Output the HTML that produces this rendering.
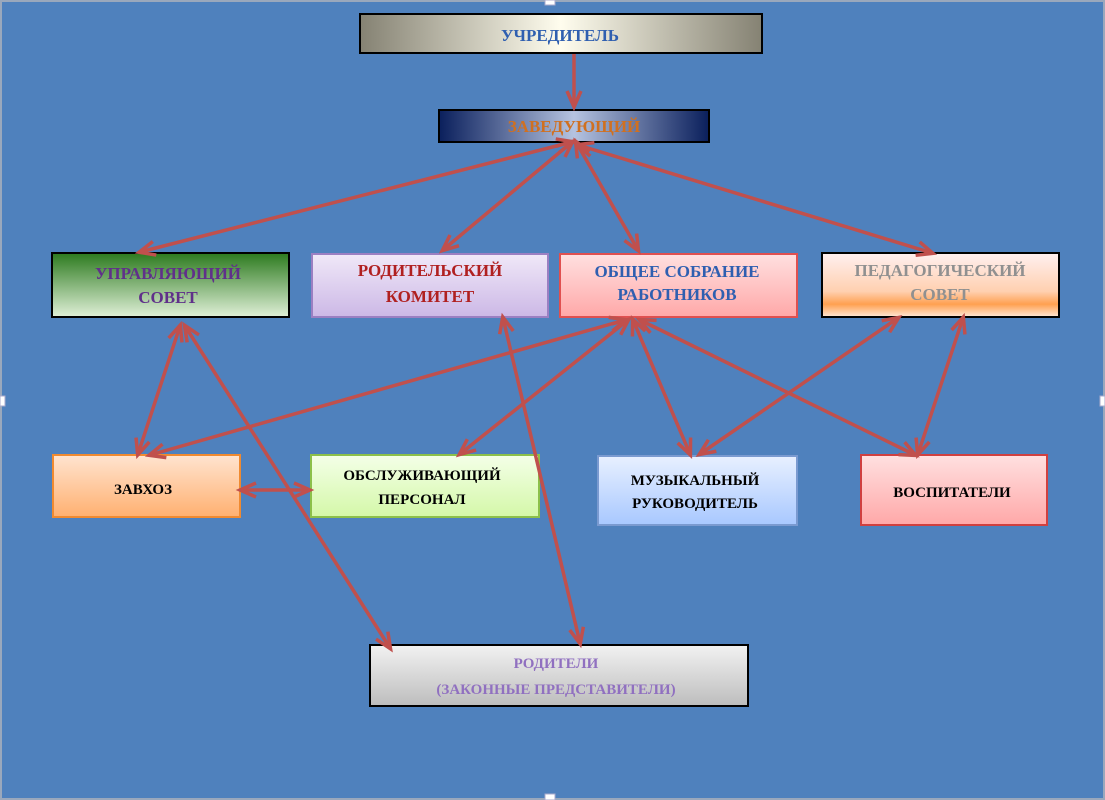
<!DOCTYPE html>
<html><head><meta charset="utf-8"><style>
html,body{margin:0;padding:0;background:#4f81bd;}
svg{display:block}
text{font-family:"Liberation Serif",serif;font-weight:bold;text-anchor:middle}
</style></head><body>
<svg width="1105" height="800" viewBox="0 0 1105 800" xmlns="http://www.w3.org/2000/svg">
<defs>
<linearGradient id="g1" x1="0" x2="1"><stop offset="0" stop-color="#858273"/><stop offset=".5" stop-color="#fffdee"/><stop offset="1" stop-color="#858273"/></linearGradient>
<linearGradient id="g2" x1="0" x2="1"><stop offset="0" stop-color="#0a1f5c"/><stop offset=".5" stop-color="#b5c3e0"/><stop offset="1" stop-color="#0a1f5c"/></linearGradient>
<linearGradient id="g3" x1="0" y1="0" x2="0" y2="1"><stop offset="0" stop-color="#2c7a1e"/><stop offset="1" stop-color="#e0f0d8"/></linearGradient>
<linearGradient id="g4" x1="0" y1="0" x2="0" y2="1"><stop offset="0" stop-color="#f0e8f8"/><stop offset="1" stop-color="#ccb8e6"/></linearGradient>
<linearGradient id="g5" x1="0" y1="0" x2="0" y2="1"><stop offset="0" stop-color="#ffe0e0"/><stop offset="1" stop-color="#ffa8a8"/></linearGradient>
<linearGradient id="g6" x1="0" y1="0" x2="0" y2="1"><stop offset="0" stop-color="#fff0f0"/><stop offset=".6" stop-color="#ffd0b0"/><stop offset=".8" stop-color="#ffa050"/><stop offset="1" stop-color="#ffe8d8"/></linearGradient>
<linearGradient id="g7" x1="0" y1="0" x2="0" y2="1"><stop offset="0" stop-color="#ffe4d0"/><stop offset="1" stop-color="#ffb070"/></linearGradient>
<linearGradient id="g8" x1="0" y1="0" x2="0" y2="1"><stop offset="0" stop-color="#f4ffe8"/><stop offset="1" stop-color="#d4f8a8"/></linearGradient>
<linearGradient id="g9" x1="0" y1="0" x2="0" y2="1"><stop offset="0" stop-color="#e8f0ff"/><stop offset="1" stop-color="#a8c8ff"/></linearGradient>
<linearGradient id="g10" x1="0" y1="0" x2="0" y2="1"><stop offset="0" stop-color="#ffe0e0"/><stop offset="1" stop-color="#ffa8a8"/></linearGradient>
<linearGradient id="g11" x1="0" y1="0" x2="0" y2="1"><stop offset="0" stop-color="#f2f2f2"/><stop offset="1" stop-color="#bdbdbd"/></linearGradient>
<marker id="a" viewBox="-6 -6 20 24" refX="11" refY="6" markerWidth="20" markerHeight="24" orient="auto-start-reverse" markerUnits="userSpaceOnUse" style="overflow:visible">
<path d="M-4,-1 L12,6 L-4,13" fill="none" stroke="#c0504d" stroke-width="3.5"/></marker>
</defs>
<rect x="1" y="1" width="1103" height="798" fill="#4f81bd" stroke="#9aa8bc" stroke-width="2"/>
<g stroke="#000" stroke-width="2">
<rect x="360" y="14" width="402" height="39" fill="url(#g1)"/>
<rect x="439" y="110" width="270" height="32" fill="url(#g2)"/>
<rect x="52" y="253" width="237" height="64" fill="url(#g3)"/>
<rect x="312" y="254" width="236" height="63" fill="url(#g4)" stroke="#9b7fc2"/>
<rect x="560" y="254" width="237" height="63" fill="url(#g5)" stroke="#e05050"/>
<rect x="822" y="253" width="237" height="64" fill="url(#g6)"/>
<rect x="53" y="455" width="187" height="62" fill="url(#g7)" stroke="#f08a30"/>
<rect x="311" y="455" width="228" height="62" fill="url(#g8)" stroke="#8cc04a"/>
<rect x="598" y="456" width="199" height="69" fill="url(#g9)" stroke="#7a9ad0"/>
<rect x="861" y="455" width="186" height="70" fill="url(#g10)" stroke="#d04040"/>
<rect x="370" y="645" width="378" height="61" fill="url(#g11)"/>
</g>
<g font-size="17">
<text x="560" y="41" fill="#2f5fb0">УЧРЕДИТЕЛЬ</text>
<text x="574" y="132" fill="#d07020">ЗАВЕДУЮЩИЙ</text>
<text x="168" y="279" fill="#60308a">УПРАВЛЯЮЩИЙ</text><text x="168" y="303" fill="#60308a">СОВЕТ</text>
<text x="430" y="276" fill="#b02020">РОДИТЕЛЬСКИЙ</text><text x="430" y="302" fill="#b02020">КОМИТЕТ</text>
<text x="677" y="277" fill="#2f5fb0">ОБЩЕЕ СОБРАНИЕ</text><text x="677" y="300" fill="#2f5fb0">РАБОТНИКОВ</text>
<text x="940" y="276" fill="#909090">ПЕДАГОГИЧЕСКИЙ</text><text x="940" y="300" fill="#909090">СОВЕТ</text>
</g>
<g font-size="15">
<text x="143" y="494" font-weight="normal">ЗАВХОЗ</text>
<text x="422" y="480" font-weight="normal">ОБСЛУЖИВАЮЩИЙ</text><text x="422" y="504" font-weight="normal">ПЕРСОНАЛ</text>
<text x="695" y="485" font-weight="normal">МУЗЫКАЛЬНЫЙ</text><text x="695" y="508" font-weight="normal">РУКОВОДИТЕЛЬ</text>
<text x="952" y="497" font-weight="normal">ВОСПИТАТЕЛИ</text>
<text x="556" y="668" fill="#9070c0" font-weight="normal">РОДИТЕЛИ</text><text x="556" y="694" fill="#9070c0" font-weight="normal">(ЗАКОННЫЕ ПРЕДСТАВИТЕЛИ)</text>
</g>
<g stroke="#c0504d" stroke-width="3.5" fill="none" marker-end="url(#a)">
<line x1="574" y1="54" x2="574" y2="106"/>
<line x1="572" y1="142" x2="140" y2="252" marker-start="url(#a)"/>
<line x1="572" y1="142" x2="443" y2="250" marker-start="url(#a)"/>
<line x1="576" y1="142" x2="638" y2="250" marker-start="url(#a)"/>
<line x1="578" y1="145" x2="932" y2="253" marker-start="url(#a)"/>
<line x1="180" y1="326" x2="138" y2="454" marker-start="url(#a)"/>
<line x1="185" y1="326" x2="390" y2="648" marker-start="url(#a)"/>
<line x1="503" y1="318" x2="580" y2="643" marker-start="url(#a)"/>
<line x1="625" y1="320" x2="150" y2="455" marker-start="url(#a)"/>
<line x1="628" y1="320" x2="460" y2="454" marker-start="url(#a)"/>
<line x1="633" y1="320" x2="690" y2="454" marker-start="url(#a)"/>
<line x1="640" y1="320" x2="915" y2="455" marker-start="url(#a)"/>
<line x1="898" y1="318" x2="700" y2="454" marker-start="url(#a)"/>
<line x1="963" y1="318" x2="918" y2="454" marker-start="url(#a)"/>
<line x1="241" y1="490" x2="309" y2="490" marker-start="url(#a)"/>
</g>
<g fill="#fff" stroke="#aac"><rect x="0" y="396" width="5" height="10"/><rect x="1100" y="396" width="5" height="10"/><rect x="545" y="794" width="10" height="6"/><rect x="545" y="0" width="10" height="5"/></g>
</svg>
</body></html>
